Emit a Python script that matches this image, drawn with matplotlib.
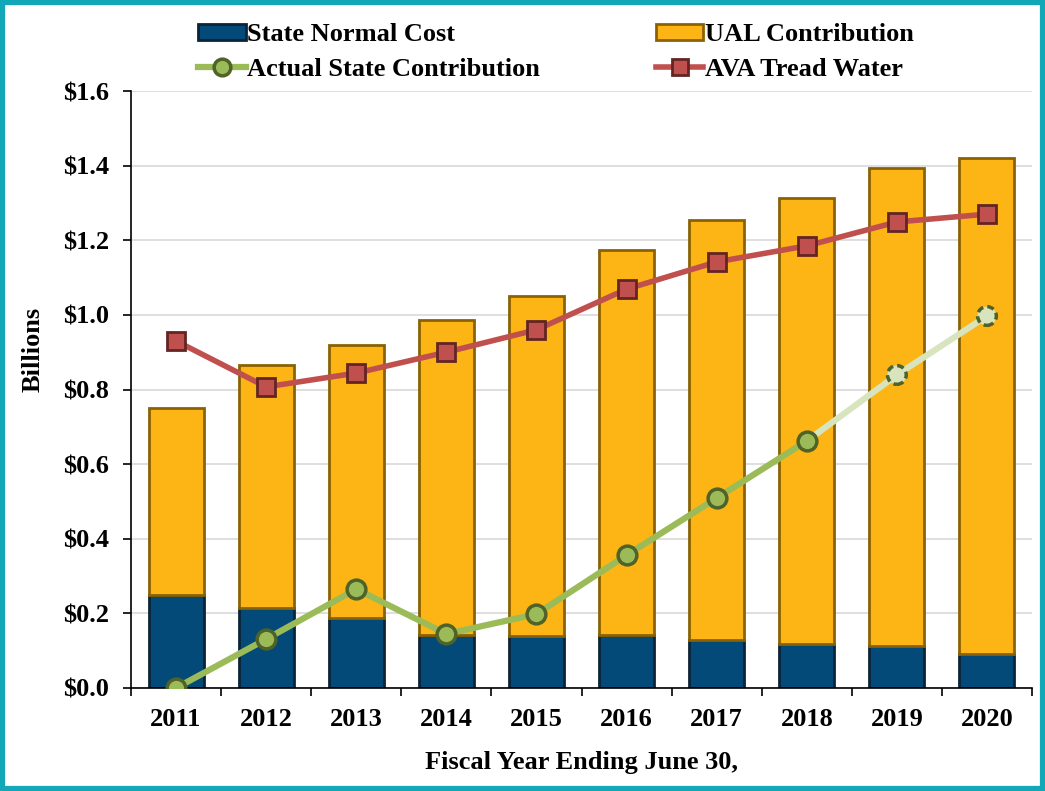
import matplotlib
matplotlib.use("Agg")
import matplotlib.pyplot as plt
from matplotlib.patches import Rectangle
from matplotlib.lines import Line2D
import numpy as np

years = ["2011", "2012", "2013", "2014", "2015", "2016", "2017", "2018", "2019", "2020"]
normal_cost = [0.249, 0.214, 0.188, 0.142, 0.139, 0.142, 0.129, 0.118, 0.113, 0.091]
total_cost = [0.750, 0.866, 0.919, 0.986, 1.051, 1.174, 1.254, 1.313, 1.394, 1.420]
ual = [t - n for t, n in zip(total_cost, normal_cost)]
actual = [0.0, 0.131, 0.265, 0.145, 0.198, 0.356, 0.509, 0.662, 0.839, 0.997]
ava = [0.930, 0.807, 0.844, 0.900, 0.960, 1.069, 1.142, 1.185, 1.249, 1.270]
n_actual_solid = 8  # first 8 points are actual, remaining are projected
yticks = [0.0, 0.2, 0.4, 0.6, 0.8, 1.0, 1.2, 1.4, 1.6]
ytick_labels = ["$0.0", "$0.2", "$0.4", "$0.6", "$0.8", "$1.0", "$1.2", "$1.4", "$1.6"]

plt.rcParams['font.family'] = ['Liberation Serif', 'DejaVu Serif']
plt.rcParams['font.weight'] = 'bold'

FS = 19

fig = plt.figure(figsize=(10.45, 7.91), dpi=100)
ax = fig.add_axes([131/1045, 1 - 688/791, (1032-131)/1045, (688-91)/791])

x = np.arange(len(years))
NAVY = "#034A78"
NAVY_E = "#0B2436"
GOLD = "#FCB514"
GOLD_E = "#8A6203"
GREEN = "#9BBB59"
GREEN_E = "#4F6228"
LGREEN = "#D7E4BD"
RED = "#C0504D"
RED_E = "#632523"

bw = 0.61
ax.bar(x, normal_cost, width=bw, color=NAVY, edgecolor=NAVY_E, linewidth=2, zorder=2)
ax.bar(x, ual, bottom=normal_cost, width=bw, color=GOLD, edgecolor=GOLD_E, linewidth=2, zorder=2)

# AVA tread water
ax.plot(x, ava, color=RED, lw=4, zorder=3, solid_capstyle='round')
ax.plot(x, ava, ls='none', marker='s', ms=12.5, mfc=RED, mec=RED_E, mew=2, zorder=4)

# Actual contribution
k = n_actual_solid
ax.plot(x[k-1:], actual[k-1:], color=LGREEN, lw=4.5, zorder=3)
ax.plot(x[:k], actual[:k], color=GREEN, lw=4.5, zorder=3)
ax.plot(x[:k], actual[:k], ls='none', marker='o', ms=13.5, mfc=GREEN, mec=GREEN_E, mew=2.5, zorder=4)
ax.scatter(x[k:], actual[k:], s=13.5**2, marker='o', facecolor=LGREEN, edgecolor=GREEN_E,
           linewidths=2.5, linestyles=(0, (2, 1.2)), zorder=4)

ax.set_xlim(-0.5, len(years) - 0.5)
ax.set_ylim(0, 1.6)
ax.set_yticks(yticks)
ax.set_yticklabels(ytick_labels, fontsize=FS, fontweight='bold')
ax.set_xticks(x)
ax.set_xticklabels(years, fontsize=FS, fontweight='bold')
ax.tick_params(axis='x', length=0, pad=14.5)
ax.set_xticks(np.arange(-0.5, len(years)), minor=True)
ax.tick_params(axis='x', which='minor', length=6, width=1.2, direction='out')
ax.tick_params(axis='y', length=6, width=1.2, direction='out', pad=10)
ax.yaxis.grid(True, color="#D9D9D9", lw=1.2, zorder=0)
ax.set_axisbelow(True)
for s in ['top', 'right']:
    ax.spines[s].set_visible(False)
ax.spines['left'].set_linewidth(1.2)
ax.spines['bottom'].set_linewidth(1.2)

ax.set_ylabel("Billions", fontsize=FS, fontweight='bold')
ax.yaxis.set_label_coords((45 - 131) / 901, (688 - 349) / 597)
ax.set_xlabel("Fiscal Year Ending June 30,", fontsize=FS, fontweight='bold', labelpad=14)

handles = [
    Rectangle((0, 0), 1, 1, facecolor=NAVY, edgecolor=NAVY_E, lw=2),
    Line2D([], [], color=GREEN, lw=4.5, marker='o', ms=12, mfc=GREEN, mec=GREEN_E, mew=2.5),
    Rectangle((0, 0), 1, 1, facecolor=GOLD, edgecolor=GOLD_E, lw=2),
    Line2D([], [], color=RED, lw=4, marker='s', ms=12, mfc=RED, mec=RED_E, mew=2),
]
labels = ["State Normal Cost", "Actual State Contribution", "UAL Contribution", "AVA Tread Water"]
fig.legend(handles, labels, ncol=2, loc='upper left', bbox_to_anchor=(198/1045, 1 - 23/791),
           frameon=False, prop={'size': FS, 'weight': 'bold'}, handlelength=1.8,
           handleheight=0.55, handletextpad=0.05, columnspacing=4.4, labelspacing=0.45,
           borderpad=0, borderaxespad=0)

# border
fig.patches.append(Rectangle((0.002, 0.003), 0.996, 0.994, transform=fig.transFigure,
                             fill=False, edgecolor="#13A8B8", lw=4.5))

fig.savefig("out.png", dpi=100)
